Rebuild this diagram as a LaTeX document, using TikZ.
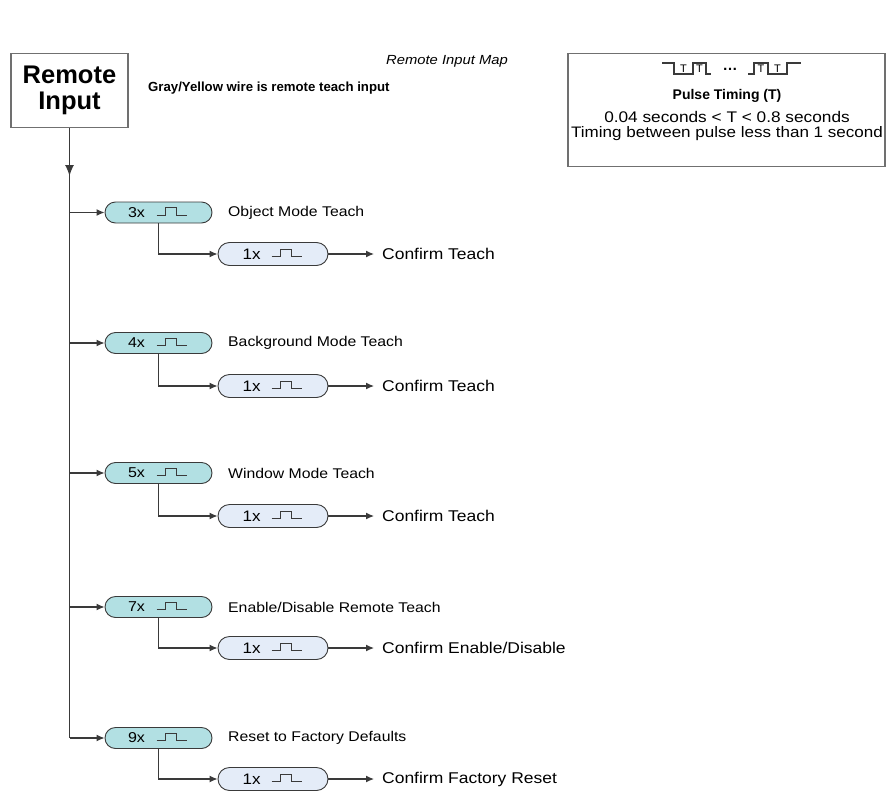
\documentclass[tikz,border=0pt]{standalone}
\usepackage{fontspec}
\setmainfont{Liberation Sans}
\newfontfamily\wf[FakeStretch=1.12]{Liberation Sans}
\usetikzlibrary{arrows.meta}
\definecolor{lncol}{HTML}{3A3A3A}
\definecolor{boxcol}{HTML}{707070}
\definecolor{mainfill}{HTML}{B2E0E3}
\definecolor{subfill}{HTML}{E4ECF8}
\newcommand\pulseicon[2]{\draw[pulseline] ([shift={(#2,2.5)}]#1.west) -- ++(9,0) -- ++(0,-7.5) -- ++(10.5,0) -- ++(0,7.5) -- ++(10.5,0);}
\begin{document}
\begin{tikzpicture}[x=1pt,y=-1pt,
  conn/.style={draw=lncol, line width=1.2pt},
  tip/.style={-{Latex[length=8pt,width=7pt]}},
  bigtip/.style={-{Latex[length=11pt,width=9pt]}},
  mainpill/.style={draw=lncol, line width=0.9pt, fill=mainfill, rounded corners=10.5pt, minimum width=107pt, minimum height=21pt, inner sep=0pt},
  subpill/.style={draw=lncol, line width=0.9pt, fill=subfill, rounded corners=11.5pt, minimum width=110pt, minimum height=23pt, inner sep=0pt},
  mtxt/.style={font=\wf\fontsize{14.3}{16}\selectfont, inner sep=0pt},
  stxt/.style={font=\wf\fontsize{15.2}{17}\selectfont, inner sep=0pt},
  mlbl/.style={font=\wf\fontsize{14.1}{16}\selectfont, anchor=west, inner sep=0pt},
  slbl/.style={font=\wf\fontsize{15.6}{17}\selectfont, anchor=west, inner sep=0pt},
  pulseline/.style={draw=lncol, line width=1pt},
  frame/.style={draw=boxcol, line width=1.8pt, fill=white}
]
\useasboundingbox (0,0) rectangle (889,790);

\node[font=\wf\itshape\fontsize{13.2}{15}\selectfont] (title) at (447,61) {Remote Input Map};

\node[frame, minimum width=117pt, minimum height=74pt, align=center, inner sep=0pt,
  font=\bfseries\fontsize{25.5}{25.5}\selectfont] (ri) at (69.5,90.5) {Remote\\Input};
\node[font=\bfseries\fontsize{13.2}{16}\selectfont, anchor=west, inner sep=0pt] (gy) at (148,88) {Gray/Yellow wire is remote teach input};

% pulse timing box
\node[frame, line width=1.5pt, minimum width=317pt, minimum height=113pt, inner sep=0pt] (pb) at (726.5,110) {};
\draw[pulseline, line width=1.2pt] (662,63) -- (674,63) -- (674,74) -- (693,74) -- (693,63) -- (706,63) -- (706,74) -- (711,74);
\draw[pulseline, line width=1.2pt] (748,74) -- (754,74) -- (754,63) -- (768,63) -- (768,74) -- (787,74) -- (787,63) -- (801,63);
\node[font=\fontsize{11}{12}\selectfont, inner sep=0pt] (t1) at (683.5,68.5) {T};
\node[font=\fontsize{11}{12}\selectfont, inner sep=0pt] (t2) at (699.5,68.5) {T};
\node[font=\fontsize{11}{12}\selectfont, inner sep=0pt] (t3) at (761,68.5) {T};
\node[font=\fontsize{11}{12}\selectfont, inner sep=0pt] (t4) at (777.5,68.5) {T};
\node[font=\bfseries\fontsize{15}{16}\selectfont, inner sep=0pt] (dots) at (730,69) {\dots};
\node[font=\bfseries\fontsize{14}{16}\selectfont, inner sep=0pt] (ptt) at (727,96) {Pulse Timing (T)};
\node[font=\wf\fontsize{15.4}{17}\selectfont, inner sep=0pt] (pl1) at (727,117) {0.04 seconds < T < 0.8 seconds};
\node[font=\wf\fontsize{15.2}{17}\selectfont, inner sep=0pt] (pl2) at (727,134) {Timing between pulse less than 1 second};

% trunk
\coordinate (tk) at (69.5,176);
\coordinate (b1) at (69.5,212.5);
\coordinate (b2) at (69.5,343);
\coordinate (b3) at (69.5,473);
\coordinate (b4) at (69.5,607);
\coordinate (b5) at (69.5,738);
\draw[conn] (ri.south) -- (b5);
\draw[conn,bigtip] (ri.south) -- (tk);

\foreach \i/\n/\my/\sy/\mt/\st in {
  1/3x/212.5/254/Object Mode Teach/Confirm Teach,
  2/4x/343/386/Background Mode Teach/Confirm Teach,
  3/5x/473/516/Window Mode Teach/Confirm Teach,
  4/7x/607/648/Enable\slash Disable Remote Teach/Confirm Enable\slash Disable,
  5/9x/738/779/Reset to Factory Defaults/Confirm Factory Reset}{
  \node[mainpill] (m\i) at (158.5,\my) {};
  \node[mtxt] (m\i t) at ([xshift=32]m\i.west) {\n};
  \pulseicon{m\i}{52}
  \node[mlbl] (ml\i) at (228,\my) {\mt};
  \node[subpill] (s\i) at (273,\sy) {};
  \node[stxt] (s\i t) at ([xshift=34]s\i.west) {1x};
  \pulseicon{s\i}{54}
  \node[slbl] (sl\i) at (382,\sy) {\st};
  \draw[conn,tip] (b\i) -- (m\i.west);
  \draw[conn,tip] (m\i.south) |- (s\i.west);
  \draw[conn,tip] (s\i.east) -- ([xshift=-8]sl\i.west);
}
\end{tikzpicture}
\end{document}
